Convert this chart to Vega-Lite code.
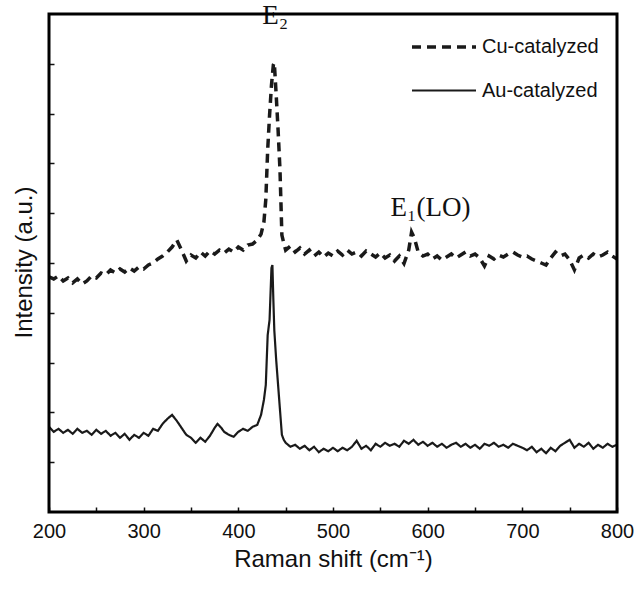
{
  "$schema": "https://vega.github.io/schema/vega-lite/v6.json",
  "width": 568,
  "height": 498,
  "autosize": {"type": "none"},
  "padding": {"left": 49, "top": 14, "right": 25, "bottom": 80},
  "background": "white",
  "config": {
    "view": {"stroke": null},
    "font": "Liberation Sans",
    "axis": {"grid": false, "domain": false, "tickColor": "#111", "tickWidth": 1.5, "labelColor": "#111", "titleColor": "#111", "titleFontWeight": "normal"}
  },
  "datasets": {
    "spectra": [
      {"x":200,"y":4.72,"s":"Cu-catalyzed"},{"x":205,"y":4.68,"s":"Cu-catalyzed"},{"x":210,"y":4.74,"s":"Cu-catalyzed"},{"x":215,"y":4.64,"s":"Cu-catalyzed"},{"x":220,"y":4.70,"s":"Cu-catalyzed"},{"x":225,"y":4.60,"s":"Cu-catalyzed"},{"x":230,"y":4.68,"s":"Cu-catalyzed"},{"x":235,"y":4.58,"s":"Cu-catalyzed"},{"x":240,"y":4.64,"s":"Cu-catalyzed"},{"x":245,"y":4.74,"s":"Cu-catalyzed"},{"x":250,"y":4.70,"s":"Cu-catalyzed"},{"x":255,"y":4.80,"s":"Cu-catalyzed"},{"x":260,"y":4.76,"s":"Cu-catalyzed"},{"x":265,"y":4.86,"s":"Cu-catalyzed"},{"x":270,"y":4.80,"s":"Cu-catalyzed"},{"x":275,"y":4.88,"s":"Cu-catalyzed"},{"x":280,"y":4.82,"s":"Cu-catalyzed"},{"x":285,"y":4.90,"s":"Cu-catalyzed"},{"x":290,"y":4.84,"s":"Cu-catalyzed"},{"x":295,"y":4.92,"s":"Cu-catalyzed"},{"x":300,"y":4.88,"s":"Cu-catalyzed"},{"x":305,"y":4.96,"s":"Cu-catalyzed"},{"x":310,"y":5.00,"s":"Cu-catalyzed"},{"x":315,"y":5.08,"s":"Cu-catalyzed"},{"x":320,"y":5.14,"s":"Cu-catalyzed"},{"x":325,"y":5.22,"s":"Cu-catalyzed"},{"x":330,"y":5.32,"s":"Cu-catalyzed"},{"x":335,"y":5.46,"s":"Cu-catalyzed"},{"x":340,"y":5.26,"s":"Cu-catalyzed"},{"x":345,"y":5.04,"s":"Cu-catalyzed"},{"x":350,"y":5.16,"s":"Cu-catalyzed"},{"x":355,"y":5.10,"s":"Cu-catalyzed"},{"x":360,"y":5.22,"s":"Cu-catalyzed"},{"x":365,"y":5.14,"s":"Cu-catalyzed"},{"x":370,"y":5.24,"s":"Cu-catalyzed"},{"x":375,"y":5.18,"s":"Cu-catalyzed"},{"x":380,"y":5.26,"s":"Cu-catalyzed"},{"x":385,"y":5.20,"s":"Cu-catalyzed"},{"x":390,"y":5.28,"s":"Cu-catalyzed"},{"x":395,"y":5.22,"s":"Cu-catalyzed"},{"x":400,"y":5.32,"s":"Cu-catalyzed"},{"x":405,"y":5.26,"s":"Cu-catalyzed"},{"x":410,"y":5.36,"s":"Cu-catalyzed"},{"x":415,"y":5.38,"s":"Cu-catalyzed"},{"x":420,"y":5.46,"s":"Cu-catalyzed"},{"x":424,"y":5.58,"s":"Cu-catalyzed"},{"x":427,"y":5.82,"s":"Cu-catalyzed"},{"x":429,"y":6.27,"s":"Cu-catalyzed"},{"x":431,"y":7.27,"s":"Cu-catalyzed"},{"x":433,"y":7.97,"s":"Cu-catalyzed"},{"x":435,"y":8.57,"s":"Cu-catalyzed"},{"x":437,"y":8.98,"s":"Cu-catalyzed"},{"x":438,"y":9.02,"s":"Cu-catalyzed"},{"x":440,"y":8.37,"s":"Cu-catalyzed"},{"x":442,"y":7.67,"s":"Cu-catalyzed"},{"x":444,"y":6.87,"s":"Cu-catalyzed"},{"x":446,"y":5.56,"s":"Cu-catalyzed"},{"x":448,"y":5.40,"s":"Cu-catalyzed"},{"x":450,"y":5.26,"s":"Cu-catalyzed"},{"x":455,"y":5.34,"s":"Cu-catalyzed"},{"x":460,"y":5.22,"s":"Cu-catalyzed"},{"x":465,"y":5.30,"s":"Cu-catalyzed"},{"x":470,"y":5.18,"s":"Cu-catalyzed"},{"x":475,"y":5.26,"s":"Cu-catalyzed"},{"x":480,"y":5.14,"s":"Cu-catalyzed"},{"x":485,"y":5.22,"s":"Cu-catalyzed"},{"x":490,"y":5.12,"s":"Cu-catalyzed"},{"x":495,"y":5.20,"s":"Cu-catalyzed"},{"x":500,"y":5.14,"s":"Cu-catalyzed"},{"x":505,"y":5.24,"s":"Cu-catalyzed"},{"x":510,"y":5.16,"s":"Cu-catalyzed"},{"x":515,"y":5.26,"s":"Cu-catalyzed"},{"x":520,"y":5.18,"s":"Cu-catalyzed"},{"x":525,"y":5.22,"s":"Cu-catalyzed"},{"x":530,"y":5.14,"s":"Cu-catalyzed"},{"x":535,"y":5.24,"s":"Cu-catalyzed"},{"x":540,"y":5.18,"s":"Cu-catalyzed"},{"x":545,"y":5.12,"s":"Cu-catalyzed"},{"x":550,"y":5.20,"s":"Cu-catalyzed"},{"x":555,"y":5.10,"s":"Cu-catalyzed"},{"x":560,"y":5.16,"s":"Cu-catalyzed"},{"x":565,"y":5.04,"s":"Cu-catalyzed"},{"x":570,"y":5.14,"s":"Cu-catalyzed"},{"x":575,"y":4.99,"s":"Cu-catalyzed"},{"x":580,"y":5.26,"s":"Cu-catalyzed"},{"x":583,"y":5.62,"s":"Cu-catalyzed"},{"x":586,"y":5.50,"s":"Cu-catalyzed"},{"x":590,"y":5.22,"s":"Cu-catalyzed"},{"x":595,"y":5.14,"s":"Cu-catalyzed"},{"x":600,"y":5.18,"s":"Cu-catalyzed"},{"x":605,"y":5.08,"s":"Cu-catalyzed"},{"x":610,"y":5.14,"s":"Cu-catalyzed"},{"x":615,"y":5.06,"s":"Cu-catalyzed"},{"x":620,"y":5.12,"s":"Cu-catalyzed"},{"x":625,"y":5.18,"s":"Cu-catalyzed"},{"x":630,"y":5.10,"s":"Cu-catalyzed"},{"x":635,"y":5.16,"s":"Cu-catalyzed"},{"x":640,"y":5.22,"s":"Cu-catalyzed"},{"x":645,"y":5.14,"s":"Cu-catalyzed"},{"x":650,"y":5.18,"s":"Cu-catalyzed"},{"x":655,"y":5.10,"s":"Cu-catalyzed"},{"x":660,"y":4.94,"s":"Cu-catalyzed"},{"x":665,"y":5.14,"s":"Cu-catalyzed"},{"x":670,"y":5.08,"s":"Cu-catalyzed"},{"x":675,"y":5.16,"s":"Cu-catalyzed"},{"x":680,"y":5.12,"s":"Cu-catalyzed"},{"x":685,"y":5.18,"s":"Cu-catalyzed"},{"x":690,"y":5.22,"s":"Cu-catalyzed"},{"x":695,"y":5.16,"s":"Cu-catalyzed"},{"x":700,"y":5.12,"s":"Cu-catalyzed"},{"x":705,"y":5.14,"s":"Cu-catalyzed"},{"x":710,"y":5.08,"s":"Cu-catalyzed"},{"x":715,"y":5.04,"s":"Cu-catalyzed"},{"x":720,"y":5.00,"s":"Cu-catalyzed"},{"x":725,"y":4.96,"s":"Cu-catalyzed"},{"x":730,"y":5.10,"s":"Cu-catalyzed"},{"x":735,"y":5.22,"s":"Cu-catalyzed"},{"x":740,"y":5.14,"s":"Cu-catalyzed"},{"x":745,"y":5.18,"s":"Cu-catalyzed"},{"x":750,"y":5.06,"s":"Cu-catalyzed"},{"x":755,"y":4.86,"s":"Cu-catalyzed"},{"x":760,"y":5.10,"s":"Cu-catalyzed"},{"x":765,"y":5.16,"s":"Cu-catalyzed"},{"x":770,"y":5.10,"s":"Cu-catalyzed"},{"x":775,"y":5.18,"s":"Cu-catalyzed"},{"x":780,"y":5.12,"s":"Cu-catalyzed"},{"x":785,"y":5.16,"s":"Cu-catalyzed"},{"x":790,"y":5.22,"s":"Cu-catalyzed"},{"x":795,"y":5.14,"s":"Cu-catalyzed"},{"x":800,"y":5.08,"s":"Cu-catalyzed"},
      {"x":200,"y":1.71,"s":"Au-catalyzed"},{"x":205,"y":1.61,"s":"Au-catalyzed"},{"x":210,"y":1.67,"s":"Au-catalyzed"},{"x":215,"y":1.59,"s":"Au-catalyzed"},{"x":220,"y":1.65,"s":"Au-catalyzed"},{"x":225,"y":1.57,"s":"Au-catalyzed"},{"x":230,"y":1.67,"s":"Au-catalyzed"},{"x":235,"y":1.59,"s":"Au-catalyzed"},{"x":240,"y":1.63,"s":"Au-catalyzed"},{"x":245,"y":1.55,"s":"Au-catalyzed"},{"x":250,"y":1.65,"s":"Au-catalyzed"},{"x":255,"y":1.57,"s":"Au-catalyzed"},{"x":260,"y":1.63,"s":"Au-catalyzed"},{"x":265,"y":1.53,"s":"Au-catalyzed"},{"x":270,"y":1.59,"s":"Au-catalyzed"},{"x":275,"y":1.49,"s":"Au-catalyzed"},{"x":280,"y":1.57,"s":"Au-catalyzed"},{"x":285,"y":1.45,"s":"Au-catalyzed"},{"x":290,"y":1.55,"s":"Au-catalyzed"},{"x":295,"y":1.49,"s":"Au-catalyzed"},{"x":300,"y":1.59,"s":"Au-catalyzed"},{"x":305,"y":1.53,"s":"Au-catalyzed"},{"x":310,"y":1.67,"s":"Au-catalyzed"},{"x":315,"y":1.63,"s":"Au-catalyzed"},{"x":320,"y":1.77,"s":"Au-catalyzed"},{"x":325,"y":1.87,"s":"Au-catalyzed"},{"x":330,"y":1.95,"s":"Au-catalyzed"},{"x":335,"y":1.83,"s":"Au-catalyzed"},{"x":340,"y":1.69,"s":"Au-catalyzed"},{"x":345,"y":1.55,"s":"Au-catalyzed"},{"x":350,"y":1.49,"s":"Au-catalyzed"},{"x":355,"y":1.39,"s":"Au-catalyzed"},{"x":360,"y":1.49,"s":"Au-catalyzed"},{"x":365,"y":1.41,"s":"Au-catalyzed"},{"x":370,"y":1.53,"s":"Au-catalyzed"},{"x":375,"y":1.69,"s":"Au-catalyzed"},{"x":378,"y":1.77,"s":"Au-catalyzed"},{"x":382,"y":1.69,"s":"Au-catalyzed"},{"x":385,"y":1.61,"s":"Au-catalyzed"},{"x":390,"y":1.55,"s":"Au-catalyzed"},{"x":395,"y":1.51,"s":"Au-catalyzed"},{"x":400,"y":1.61,"s":"Au-catalyzed"},{"x":405,"y":1.67,"s":"Au-catalyzed"},{"x":410,"y":1.63,"s":"Au-catalyzed"},{"x":415,"y":1.71,"s":"Au-catalyzed"},{"x":420,"y":1.75,"s":"Au-catalyzed"},{"x":424,"y":1.95,"s":"Au-catalyzed"},{"x":427,"y":2.25,"s":"Au-catalyzed"},{"x":429,"y":2.55,"s":"Au-catalyzed"},{"x":431,"y":3.55,"s":"Au-catalyzed"},{"x":433,"y":3.86,"s":"Au-catalyzed"},{"x":435,"y":4.90,"s":"Au-catalyzed"},{"x":436,"y":4.96,"s":"Au-catalyzed"},{"x":437,"y":4.26,"s":"Au-catalyzed"},{"x":438,"y":3.65,"s":"Au-catalyzed"},{"x":440,"y":3.05,"s":"Au-catalyzed"},{"x":442,"y":2.55,"s":"Au-catalyzed"},{"x":444,"y":2.05,"s":"Au-catalyzed"},{"x":446,"y":1.55,"s":"Au-catalyzed"},{"x":448,"y":1.45,"s":"Au-catalyzed"},{"x":450,"y":1.39,"s":"Au-catalyzed"},{"x":455,"y":1.31,"s":"Au-catalyzed"},{"x":460,"y":1.35,"s":"Au-catalyzed"},{"x":465,"y":1.27,"s":"Au-catalyzed"},{"x":470,"y":1.33,"s":"Au-catalyzed"},{"x":475,"y":1.24,"s":"Au-catalyzed"},{"x":480,"y":1.31,"s":"Au-catalyzed"},{"x":485,"y":1.20,"s":"Au-catalyzed"},{"x":490,"y":1.27,"s":"Au-catalyzed"},{"x":495,"y":1.22,"s":"Au-catalyzed"},{"x":500,"y":1.29,"s":"Au-catalyzed"},{"x":505,"y":1.22,"s":"Au-catalyzed"},{"x":510,"y":1.29,"s":"Au-catalyzed"},{"x":515,"y":1.24,"s":"Au-catalyzed"},{"x":520,"y":1.31,"s":"Au-catalyzed"},{"x":525,"y":1.43,"s":"Au-catalyzed"},{"x":530,"y":1.27,"s":"Au-catalyzed"},{"x":535,"y":1.33,"s":"Au-catalyzed"},{"x":540,"y":1.24,"s":"Au-catalyzed"},{"x":545,"y":1.37,"s":"Au-catalyzed"},{"x":550,"y":1.31,"s":"Au-catalyzed"},{"x":555,"y":1.39,"s":"Au-catalyzed"},{"x":560,"y":1.33,"s":"Au-catalyzed"},{"x":565,"y":1.37,"s":"Au-catalyzed"},{"x":570,"y":1.31,"s":"Au-catalyzed"},{"x":575,"y":1.43,"s":"Au-catalyzed"},{"x":580,"y":1.37,"s":"Au-catalyzed"},{"x":585,"y":1.45,"s":"Au-catalyzed"},{"x":590,"y":1.35,"s":"Au-catalyzed"},{"x":595,"y":1.41,"s":"Au-catalyzed"},{"x":600,"y":1.33,"s":"Au-catalyzed"},{"x":605,"y":1.39,"s":"Au-catalyzed"},{"x":610,"y":1.31,"s":"Au-catalyzed"},{"x":615,"y":1.37,"s":"Au-catalyzed"},{"x":620,"y":1.29,"s":"Au-catalyzed"},{"x":625,"y":1.35,"s":"Au-catalyzed"},{"x":630,"y":1.39,"s":"Au-catalyzed"},{"x":635,"y":1.31,"s":"Au-catalyzed"},{"x":640,"y":1.37,"s":"Au-catalyzed"},{"x":645,"y":1.29,"s":"Au-catalyzed"},{"x":650,"y":1.35,"s":"Au-catalyzed"},{"x":655,"y":1.27,"s":"Au-catalyzed"},{"x":660,"y":1.37,"s":"Au-catalyzed"},{"x":665,"y":1.33,"s":"Au-catalyzed"},{"x":670,"y":1.39,"s":"Au-catalyzed"},{"x":675,"y":1.31,"s":"Au-catalyzed"},{"x":680,"y":1.35,"s":"Au-catalyzed"},{"x":685,"y":1.29,"s":"Au-catalyzed"},{"x":690,"y":1.37,"s":"Au-catalyzed"},{"x":695,"y":1.33,"s":"Au-catalyzed"},{"x":700,"y":1.29,"s":"Au-catalyzed"},{"x":705,"y":1.24,"s":"Au-catalyzed"},{"x":710,"y":1.31,"s":"Au-catalyzed"},{"x":715,"y":1.20,"s":"Au-catalyzed"},{"x":720,"y":1.27,"s":"Au-catalyzed"},{"x":725,"y":1.18,"s":"Au-catalyzed"},{"x":730,"y":1.29,"s":"Au-catalyzed"},{"x":735,"y":1.22,"s":"Au-catalyzed"},{"x":740,"y":1.33,"s":"Au-catalyzed"},{"x":745,"y":1.39,"s":"Au-catalyzed"},{"x":750,"y":1.45,"s":"Au-catalyzed"},{"x":755,"y":1.29,"s":"Au-catalyzed"},{"x":760,"y":1.37,"s":"Au-catalyzed"},{"x":765,"y":1.31,"s":"Au-catalyzed"},{"x":770,"y":1.39,"s":"Au-catalyzed"},{"x":775,"y":1.27,"s":"Au-catalyzed"},{"x":780,"y":1.35,"s":"Au-catalyzed"},{"x":785,"y":1.29,"s":"Au-catalyzed"},{"x":790,"y":1.37,"s":"Au-catalyzed"},{"x":795,"y":1.31,"s":"Au-catalyzed"},{"x":800,"y":1.35,"s":"Au-catalyzed"}
    ],
    "labels": [
      {"x": 439, "y": 9.8, "label": "E₂"},
      {"x": 603, "y": 5.95, "label": "E₁(LO)"}
    ],
    "frame": [
      {"x0": 200, "x1": 800, "y0": 0, "y1": 10}
    ]
  },
  "layer": [
    {
      "data": {"name": "spectra"},
      "mark": {"type": "line", "color": "#1a1a1a", "strokeJoin": "miter", "clip": true},
      "encoding": {
        "x": {"field": "x", "type": "quantitative", "scale": {"domain": [200, 800], "nice": false, "zero": false},
          "axis": {"title": "Raman shift (cm⁻¹)", "values": [200,250,300,350,400,450,500,550,600,650,700,750,800], "labelExpr": "datum.value % 100 === 0 ? datum.label : ''", "tickSize": -5, "labelPadding": 14, "labelFontSize": 20, "titleFontSize": 24, "titlePadding": 6, "labelFlush": false}},
        "y": {"field": "y", "type": "quantitative", "scale": {"domain": [0, 10], "nice": false, "zero": false},
          "axis": {"title": "Intensity (a.u.)", "values": [1,2,3,4,5,6,7,8,9], "labels": false, "tickSize": -5, "titleFontSize": 24, "titleX": -13, "titleY": 248, "titleBaseline": "bottom"}},
        "strokeDash": {"field": "s", "type": "nominal", "sort": ["Cu-catalyzed", "Au-catalyzed"],
          "scale": {"domain": ["Cu-catalyzed", "Au-catalyzed"], "range": [[9, 6], [1, 0]]},
          "legend": {"title": null, "orient": "none", "legendX": 361, "legendY": -1, "symbolType": "stroke", "symbolSize": 4096, "symbolStrokeWidth": 3, "symbolStrokeColor": "#1a1a1a", "labelFontSize": 20, "labelColor": "#111", "labelOffset": 4, "rowPadding": -29}},
        "strokeWidth": {"field": "s", "type": "nominal", "scale": {"domain": ["Cu-catalyzed", "Au-catalyzed"], "range": [3.5, 2.2]}, "legend": null}
      }
    },
    {
      "data": {"name": "labels"},
      "mark": {"type": "text", "font": "Liberation Serif", "fontSize": 27, "color": "#111", "align": "center", "baseline": "alphabetic"},
      "encoding": {
        "x": {"field": "x", "type": "quantitative"},
        "y": {"field": "y", "type": "quantitative"},
        "text": {"field": "label"}
      }
    },
    {
      "data": {"name": "frame"},
      "mark": {"type": "rect", "fill": "transparent", "stroke": "#000000", "strokeWidth": 3},
      "encoding": {
        "x": {"field": "x0", "type": "quantitative"},
        "x2": {"field": "x1"},
        "y": {"field": "y0", "type": "quantitative"},
        "y2": {"field": "y1"}
      }
    }
  ]
}
